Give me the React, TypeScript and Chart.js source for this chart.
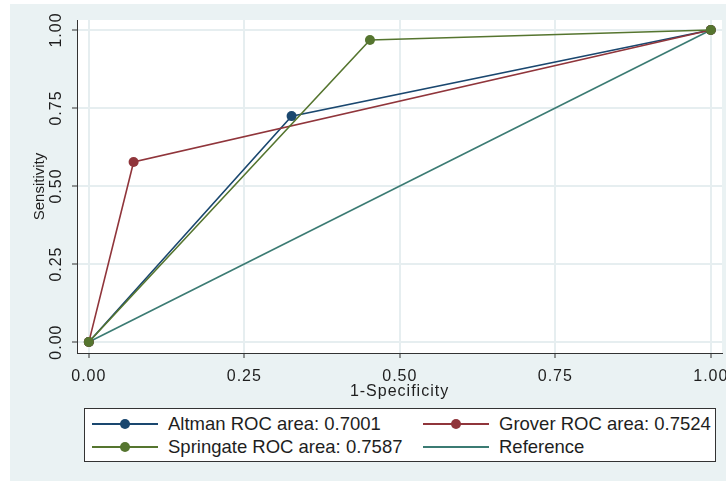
import React, { useEffect, useRef } from "react";
import { Chart, registerables } from "chart.js";

Chart.register(...registerables);

// ---- data ----
const seriesNames = [
  "Altman ROC area: 0.7001",
  "Grover ROC area: 0.7524",
  "Springate ROC area: 0.7587",
  "Reference",
];
const altmanX = [0, 0.326, 1];
const altmanY = [0, 0.724, 1];
const groverX = [0, 0.072, 1];
const groverY = [0, 0.577, 1];
const springateX = [0, 0.452, 1];
const springateY = [0, 0.968, 1];
const referenceX = [0, 1];
const referenceY = [0, 1];
const xTicks = [0, 0.25, 0.5, 0.75, 1];
const yTicks = [0, 0.25, 0.5, 0.75, 1];
const xTitle = "1-Specificity";
const yTitle = "Sensitivity";

const colors = ["#1a476f", "#90353b", "#55752f", "#3b7b73"];
const FONT = "'Liberation Sans', Arial, sans-serif";

const toPts = (xs: number[], ys: number[]) => xs.map((x, i) => ({ x, y: ys[i] }));

const CANVAS_W = 760;
const CANVAS_H = 404;

const bgPlugin = {
  id: "plotBg",
  beforeDraw(chart: any) {
    const { ctx, chartArea } = chart;
    ctx.save();
    ctx.fillStyle = "#ffffff";
    ctx.fillRect(chartArea.left, chartArea.top, chartArea.right - chartArea.left, chartArea.bottom - chartArea.top);
    ctx.restore();
    (ctx as any).letterSpacing = "1px";
  },
  afterDraw(chart: any) {
    const { ctx, scales, chartArea } = chart;
    const ys = scales.y;
    ctx.save();
    ctx.fillStyle = "#1e1e1e";
    ctx.textAlign = "center";
    ctx.textBaseline = "middle";
    (ctx as any).letterSpacing = "1px";
    ctx.font = `16px ${FONT}`;
    ys.ticks.forEach((t: any) => {
      const py = ys.getPixelForValue(t.value);
      ctx.save();
      ctx.translate(47, py);
      ctx.rotate(-Math.PI / 2);
      ctx.fillText(Number(t.value).toFixed(2), 0, 0);
      ctx.restore();
    });
    (ctx as any).letterSpacing = "0px";
    ctx.font = `15px ${FONT}`;
    ctx.save();
    ctx.translate(30, (chartArea.top + chartArea.bottom) / 2);
    ctx.rotate(-Math.PI / 2);
    ctx.fillText(yTitle, 0, 0);
    ctx.restore();
    ctx.restore();
  },
};

function LegendSymbol({ color, left, top, marker }: { color: string; left: number; top: number; marker: boolean }) {
  return (
    <>
      <div
        style={{
          position: "absolute",
          left,
          top: top - 0.8,
          width: 66,
          height: 1.6,
          background: color,
        }}
      />
      {marker && (
        <div
          style={{
            position: "absolute",
            left: left + 33 - 5,
            top: top - 5,
            width: 10,
            height: 10,
            borderRadius: "50%",
            background: color,
          }}
        />
      )}
    </>
  );
}

export default function App() {
  const ref = useRef<HTMLCanvasElement>(null);

  useEffect(() => {
    if (!ref.current) return;
    const mk = (i: number, xs: number[], ys: number[], order: number, pr: number) => ({
      label: seriesNames[i],
      data: toPts(xs, ys),
      borderColor: colors[i],
      backgroundColor: colors[i],
      borderWidth: 1.6,
      pointRadius: pr,
      pointHoverRadius: pr,
      pointBorderWidth: 0,
      pointBackgroundColor: colors[i],
      tension: 0,
      order,
      clip: false as any,
    });
    const chart = new Chart(ref.current, {
      type: "line",
      data: {
        datasets: [
          mk(0, altmanX, altmanY, 3, 5),
          mk(1, groverX, groverY, 2, 5),
          mk(2, springateX, springateY, 1, 5),
          mk(3, referenceX, referenceY, 4, 0),
        ],
      },
      options: {
        animation: false,
        responsive: false,
        devicePixelRatio: 1,
        layout: { padding: { left: 0, right: 48, top: 16, bottom: 0 } },
        plugins: { legend: { display: false }, tooltip: { enabled: false } },
        scales: {
          x: {
            type: "linear",
            min: -0.019,
            max: 1.018,
            afterBuildTicks: (s: any) => {
              s.ticks = xTicks.map((v) => ({ value: v }));
            },
            afterFit: (s: any) => {
              s.height = CANVAS_H - 349;
            },
            grid: {
              color: "#e6eef0",
              lineWidth: 2,
              drawTicks: true,
              tickLength: 5,
              tickColor: "#333333",
              tickWidth: 1,
            },
            border: { display: true, color: "#333333", width: 1 },
            ticks: {
              padding: 9,
              color: "#1e1e1e",
              font: { family: FONT, size: 16 },
              maxRotation: 0,
              autoSkip: false,
              callback: (v: any) => Number(v).toFixed(2),
            },
            title: {
              display: true,
              text: xTitle,
              color: "#1e1e1e",
              font: { family: FONT, size: 16 },
              padding: { top: 0, bottom: 7 },
            },
          },
          y: {
            type: "linear",
            min: -0.035,
            max: 1.032,
            afterBuildTicks: (s: any) => {
              s.ticks = yTicks.map((v) => ({ value: v }));
            },
            afterFit: (s: any) => {
              s.width = 67;
            },
            grid: {
              color: "#e6eef0",
              lineWidth: 2,
              drawTicks: true,
              tickLength: 5,
              tickColor: "#333333",
              tickWidth: 1,
            },
            border: { display: true, color: "#333333", width: 1 },
            ticks: {
              color: "rgba(0,0,0,0)",
              font: { family: FONT, size: 16 },
              autoSkip: false,
              callback: (v: any) => Number(v).toFixed(2),
            },
            title: { display: false },
          },
        },
      },
      plugins: [bgPlugin],
    } as any);
    return () => chart.destroy();
  }, []);

  const rowTop = [15, 38];
  const legendItems = [
    { i: 0, col: 0, row: 0 },
    { i: 1, col: 1, row: 0 },
    { i: 2, col: 0, row: 1 },
    { i: 3, col: 1, row: 1 },
  ];
  const symLeft = [7, 338];
  const textLeft = [83, 414];

  return (
    <div
      style={{
        position: "absolute",
        left: 0,
        top: 0,
        width: 726,
        height: 481,
        overflow: "hidden",
        background: "#ffffff",
      }}
    >
      <div
        style={{
          position: "absolute",
          left: 10,
          top: 4,
          width: 716,
          height: 477,
          overflow: "hidden",
          background: "#eaf2f3",
        }}
      >
        <canvas
          ref={ref}
          width={CANVAS_W}
          height={CANVAS_H}
          style={{ position: "absolute", left: 0, top: 0, width: CANVAS_W, height: CANVAS_H }}
        />
        <div
          style={{
            position: "absolute",
            left: 74,
            top: 404,
            width: 630,
            height: 52,
            border: "1px solid #333333",
            background: "#ffffff",
            fontFamily: FONT,
            fontSize: 18.5,
            color: "#1e1e1e",
          }}
        >
          {legendItems.map(({ i, col, row }) => (
            <React.Fragment key={i}>
              <LegendSymbol color={colors[i]} left={symLeft[col]} top={rowTop[row]} marker={i !== 3} />
              <span
                style={{
                  position: "absolute",
                  left: textLeft[col],
                  top: rowTop[row] - 11,
                  lineHeight: "22px",
                  whiteSpace: "nowrap",
                }}
              >
                {seriesNames[i]}
              </span>
            </React.Fragment>
          ))}
        </div>
      </div>
    </div>
  );
}
